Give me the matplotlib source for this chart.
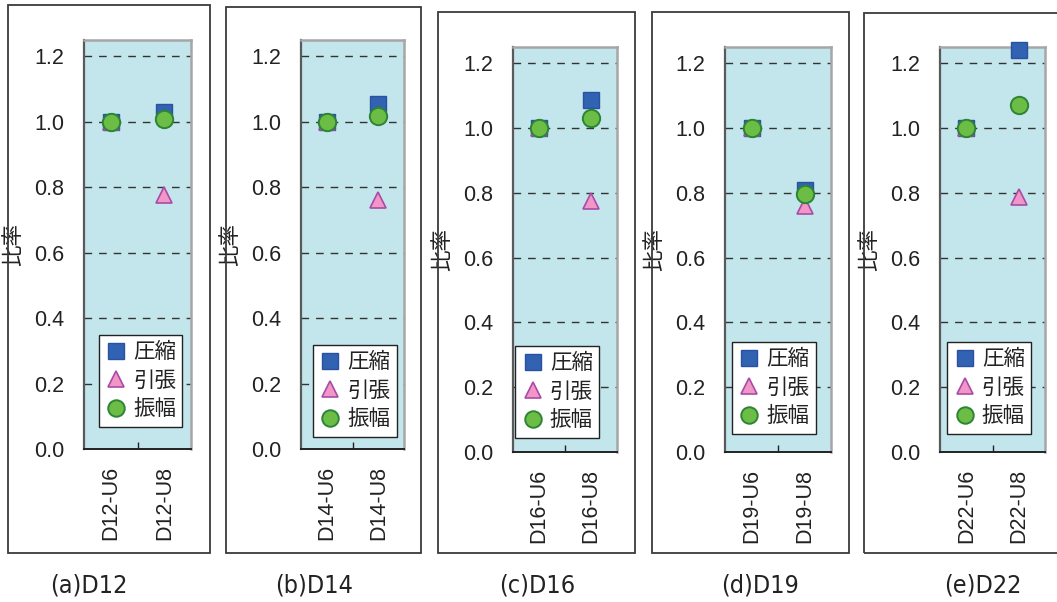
import matplotlib.pyplot as plt
from matplotlib.patches import Rectangle
from matplotlib.ticker import FixedLocator, FormatStrFormatter

plt.rcParams['font.family'] = ['Liberation Sans', 'Noto Sans CJK JP', 'DejaVu Sans']

# ratio of each specimen to the U6 reference, per bar size
panels = ['D12', 'D14', 'D16', 'D19', 'D22']
letters = ['a', 'b', 'c', 'd', 'e']
specimens = [['D12-U6', 'D12-U8'],
             ['D14-U6', 'D14-U8'],
             ['D16-U6', 'D16-U8'],
             ['D19-U6', 'D19-U8'],
             ['D22-U6', 'D22-U8']]
compression = [[1.0, 1.03], [1.0, 1.055], [1.0, 1.085], [1.0, 0.81], [1.0, 1.24]]
tension = [[1.0, 0.776], [1.0, 0.76], [1.0, 0.775], [1.0, 0.759], [1.0, 0.786]]
amplitude = [[1.0, 1.008], [1.0, 1.018], [1.0, 1.03], [1.0, 0.796], [1.0, 1.07]]
series_names = ['圧縮', '引張', '振幅']

W, H = 1057, 602

# pixel boxes: axes (left, top, right, bottom), outer frame, legend anchor
layout = [
    dict(ax=(84, 40, 191, 449), frame=(8, 5, 210, 553), leg=(0.92, 0.055), cap=89),
    dict(ax=(301, 40, 404, 449), frame=(226, 7, 421, 553), leg=(0.93, 0.03), cap=314),
    dict(ax=(513, 47, 617, 452), frame=(438, 12, 635, 553), leg=(0.83, 0.035), cap=537),
    dict(ax=(725, 47, 831, 452), frame=(652, 12, 849, 553), leg=(0.86, 0.045), cap=760),
    dict(ax=(940, 47, 1045, 452), frame=(864, 13, 1070, 553), leg=(0.87, 0.045), cap=983),
]

FS = 15.5


def fig_rect(l, t, r, b):
    return [l / W, 1 - b / H, (r - l) / W, (b - t) / H]


fig = plt.figure(figsize=(W / 100, H / 100), dpi=100)

styles = [
    dict(marker='s', ms=11.5, mfc='#3262B2', mec='#2A52A0', mew=1.0),
    dict(marker='^', ms=12, mfc='#F296C8', mec='#A94BA6', mew=1.2),
    dict(marker='o', ms=12.5, mfc='#6CBD45', mec='#2E8435', mew=1.4),
]

for i, lay in enumerate(layout):
    l, t, r, b = lay['frame']
    fig.patches.append(Rectangle((l / W, 1 - b / H), (r - l) / W, (b - t) / H,
                                 transform=fig.transFigure, fill=False,
                                 edgecolor='#3a3a3a', linewidth=1.3))

    ax = fig.add_axes(fig_rect(*lay['ax']))
    ax.set_facecolor('#C2E6EB')
    x = range(len(specimens[i]))
    for vals, st, name in zip([compression[i], tension[i], amplitude[i]], styles, series_names):
        ax.plot(x, vals, linestyle='none', label=name, clip_on=False, zorder=3, **st)

    ax.set_xlim(-0.5, 1.5)
    ax.set_ylim(0, 1.25)
    ax.set_yticks([0.0, 0.2, 0.4, 0.6, 0.8, 1.0, 1.2])
    ax.yaxis.set_major_formatter(FormatStrFormatter('%.1f'))
    ax.set_xticks(list(x))
    ax.set_xticklabels(specimens[i], rotation=90)
    ax.xaxis.set_minor_locator(FixedLocator([0.5]))
    ax.tick_params(axis='both', which='major', length=0, labelsize=FS, colors='#222222')
    ax.tick_params(axis='y', pad=14)
    ax.tick_params(axis='x', pad=12)
    ax.tick_params(axis='x', which='minor', direction='in', length=5, width=1, color='#222222')

    for yv in [0.2, 0.4, 0.6, 0.8, 1.0, 1.2]:
        ax.axhline(yv, color='#333333', linewidth=1.0, dashes=(5.5, 5), zorder=1)

    ax.spines['left'].set_color('#5a5a5a')
    ax.spines['left'].set_linewidth(1.6)
    ax.spines['bottom'].set_color('#222222')
    ax.spines['bottom'].set_linewidth(1.4)
    for side in ['top', 'right']:
        ax.spines[side].set_color('#A6A6A6')
        ax.spines[side].set_linewidth(1.8)

    ax.set_ylabel('比率', fontsize=FS, family=['Noto Sans CJK JP'], color='#222222')
    axw = lay['ax'][2] - lay['ax'][0]
    ax.yaxis.set_label_coords(-60 / axw, 0.5)

    leg = ax.legend(loc='lower right', bbox_to_anchor=lay['leg'],
                    frameon=True, fancybox=False, edgecolor='#222222',
                    framealpha=1, borderpad=0.3, labelspacing=0.3,
                    handlelength=1.0, handletextpad=0.3, markerscale=0.95,
                    borderaxespad=0, prop={'family': ['Noto Sans CJK JP'], 'size': FS})
    leg.get_frame().set_linewidth(1.0)
    leg.set_zorder(5)
    for txt in leg.get_texts():
        txt.set_color('#222222')

    fig.text(lay['cap'] / W, 1 - 586 / H, '(%s)%s' % (letters[i], panels[i]),
             ha='center', va='center', fontsize=18, family='DejaVu Sans',
             fontstretch='condensed', color='#222222')

fig.savefig('out.png', dpi=100)
